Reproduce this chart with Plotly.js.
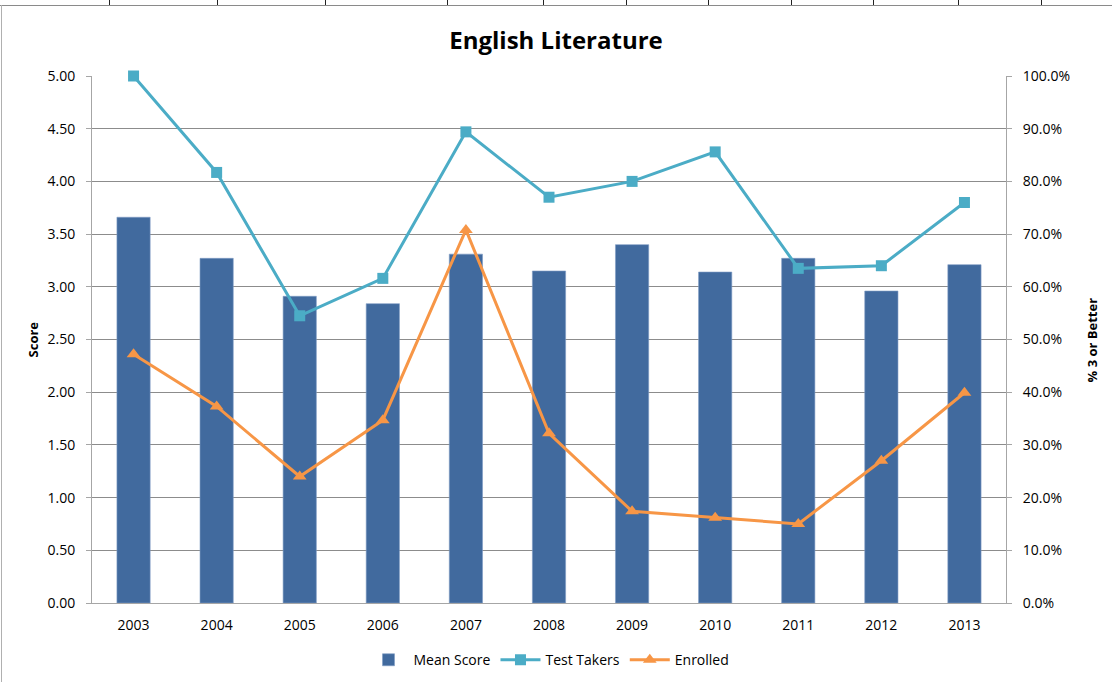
<!DOCTYPE html>
<html>
<head>
<meta charset="utf-8">
<script src="https://cdn.plot.ly/plotly-3.0.1.min.js"></script>
<style>
  html, body { margin: 0; padding: 0; background: #fff; }
  #wrap { position: relative; width: 1112px; height: 682px; overflow: hidden; }
  #chart { position: absolute; left: 0; top: 0; width: 1112px; height: 682px; }
  .hline { position: absolute; left: 0; top: 5px; width: 1112px; height: 1px; background: #8a8a8a; z-index: 5; }
  .vline { position: absolute; left: 1px; top: 5px; width: 1px; height: 677px; background: #b0b0b0; z-index: 5; }
  .tk { position: absolute; top: 0; width: 1px; height: 5px; background: #222; z-index: 5; }
</style>
</head>
<body>
<div id="wrap">
  <div id="chart"></div>
  <div class="hline"></div>
  <div class="vline"></div>
</div>
<script>
const years = ["2003","2004","2005","2006","2007","2008","2009","2010","2011","2012","2013"];
const meanScore = [3.66, 3.27, 2.91, 2.84, 3.31, 3.15, 3.40, 3.14, 3.27, 2.96, 3.21];
const testTakers = [100.0, 81.7, 54.5, 61.6, 89.4, 77.0, 80.0, 85.6, 63.5, 64.0, 76.0];
const enrolled = [47.2, 37.3, 24.0, 34.7, 70.8, 32.2, 17.4, 16.2, 15.0, 27.0, 39.9];
const leftTicks = [0, 0.5, 1, 1.5, 2, 2.5, 3, 3.5, 4, 4.5, 5];
const rightTicks = [0, 10, 20, 30, 40, 50, 60, 70, 80, 90, 100];
const rightTickText = ["0.0%","10.0%","20.0%","30.0%","40.0%","50.0%","60.0%","70.0%","80.0%","90.0%","100.0%"];
const sheetTickX = [109, 217, 325, 447, 543, 626, 708, 791, 873, 958, 1041];

const wrap = document.getElementById('wrap');
sheetTickX.forEach(function (x) {
  const d = document.createElement('div');
  d.className = 'tk';
  d.style.left = x + 'px';
  wrap.appendChild(d);
});

const font = 'Open Sans, Noto Sans, Liberation Sans, sans-serif';

const traces = [
  {
    type: 'bar', name: 'Mean Score', x: years, y: meanScore,
    marker: { color: '#416a9e', line: { color: '#7f9cc4', width: 0.6 } },
    yaxis: 'y'
  },
  {
    type: 'scatter', mode: 'lines+markers', name: 'Test Takers', x: years, y: testTakers,
    line: { color: '#4bacc6', width: 3 }, cliponaxis: false,
    marker: { symbol: 'square', size: 11, color: '#4bacc6' },
    yaxis: 'y2'
  },
  {
    type: 'scatter', mode: 'lines+markers', name: 'Enrolled', x: years, y: enrolled,
    line: { color: '#f79646', width: 3 }, cliponaxis: false,
    marker: { symbol: 'triangle-up', size: 12, color: '#f79646' },
    yaxis: 'y2'
  }
];

const layout = {
  width: 1112, height: 682,
  margin: { l: 92, r: 106, t: 76, b: 79, pad: 0, autoexpand: false },
  paper_bgcolor: '#ffffff', plot_bgcolor: '#ffffff',
  font: { family: font, size: 14, color: '#000' },
  title: { text: '<b>English Literature</b>', x: 0.5, xanchor: 'center', y: 0.941, yanchor: 'middle',
           font: { family: font, size: 24, color: '#000' } },
  bargap: 0.6,
  showlegend: true,
  legend: { orientation: 'h', x: 0.5, xanchor: 'center', xref: 'paper', y: 0.032, yref: 'container', yanchor: 'middle',
            font: { family: font, size: 14 }, itemwidth: 40, tracegroupgap: 0 },
  xaxis: {
    type: 'category', range: [-0.5, 10.5], showgrid: false, showline: true, linecolor: '#a6a6a6', linewidth: 1,
    ticks: '', ticklabelstandoff: 9, tickfont: { family: font, size: 14 }, fixedrange: true, automargin: false
  },
  yaxis: {
    range: [0, 5], tickvals: leftTicks, tickformat: '.2f',
    showgrid: true, gridcolor: '#8c8c8c', gridwidth: 1,
    showline: true, linecolor: '#a6a6a6', linewidth: 1,
    ticks: 'outside', ticklen: 5, tickcolor: '#a6a6a6', ticklabelstandoff: 8,
    tickfont: { family: font, size: 14 }, zeroline: false, automargin: false
  },
  yaxis2: {
    range: [0, 100], tickvals: rightTicks, ticktext: rightTickText,
    overlaying: 'y', side: 'right', showgrid: false,
    showline: true, linecolor: '#a6a6a6', linewidth: 1,
    ticks: 'outside', ticklen: 5, tickcolor: '#a6a6a6', ticklabelstandoff: 8,
    tickfont: { family: font, size: 14 }, zeroline: false, automargin: false
  },
  annotations: [
    { text: '<b>Score</b>', xref: 'paper', yref: 'paper', x: -0.0646, y: 0.5, textangle: -90,
      showarrow: false, xanchor: 'center', yanchor: 'middle', font: { family: font, size: 13 } },
    { text: '<b>% 3 or Better</b>', xref: 'paper', yref: 'paper', x: 1.094, y: 0.5, textangle: -90,
      showarrow: false, xanchor: 'center', yanchor: 'middle', font: { family: font, size: 13 } }
  ]
};

Plotly.newPlot('chart', traces, layout, { displayModeBar: false, staticPlot: true });
</script>
</body>
</html>
